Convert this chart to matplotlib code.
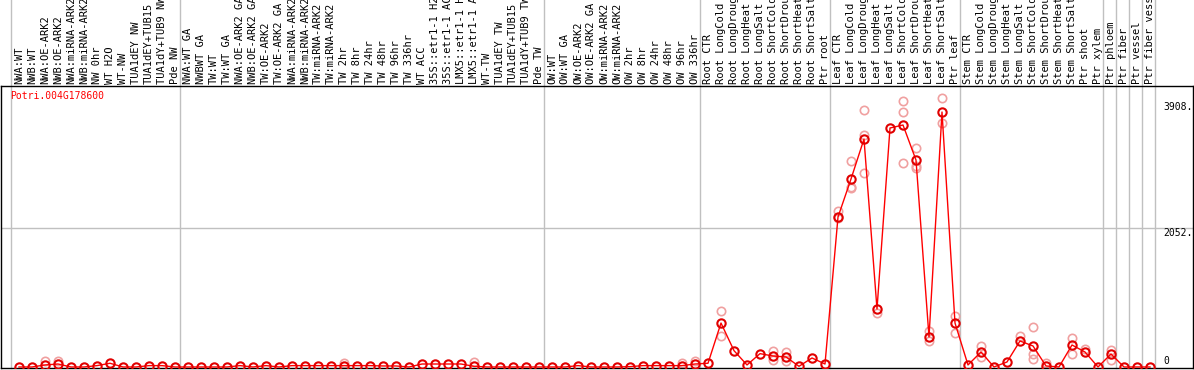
import matplotlib
matplotlib.use("Agg")
import matplotlib.pyplot as plt
import matplotlib.transforms as mtransforms

gene = "Potri.004G178600"

samples = [
    "NWA:WT", "NWB:WT", "NWA:OE-ARK2", "NWB:OE-ARK2", "NWA:miRNA-ARK2",
    "NWB:miRNA-ARK2", "NW 0hr", "WT H2O", "WT-NW", "TUA1dEY NW",
    "TUA1dEY+TUB15", "TUA1dY+TUB9 NW", "Pde NW",
    "NWA:WT GA", "NWBWT GA", "TW:WT", "TW:WT GA", "NWA:OE-ARK2 GA",
    "NWB:OE-ARK2 GA", "TW:OE-ARK2", "TW:OE-ARK2 GA", "NWA:miRNA-ARK2",
    "NWB:miRNA-ARK2", "TW:miRNA-ARK2", "TW:miRNA-ARK2", "TW 2hr", "TW 8hr",
    "TW 24hr", "TW 48hr", "TW 96hr", "TW 336hr", "WT ACC",
    "35S::etr1-1 H2O", "35S::etr1-1 ACC", "LMX5::etr1-1 H2O",
    "LMX5::etr1-1 ACC", "WT-TW", "TUA1dEY TW", "TUA1dEY+TUB15",
    "TUA1dY+TUB9 TW", "Pde TW",
    "OW:WT", "OW:WT GA", "OW:OE-ARK2", "OW:OE-ARK2 GA", "OW:miRNA-ARK2",
    "OW:miRNA-ARK2", "OW 2hr", "OW 8hr", "OW 24hr", "OW 48hr", "OW 96hr",
    "OW 336hr",
    "Root CTR", "Root LongCold", "Root LongDrought", "Root LongHeat",
    "Root LongSalt", "Root ShortCold", "Root ShortDrought", "Root ShortHeat",
    "Root ShortSalt", "Ptr root",
    "Leaf CTR", "Leaf LongCold", "Leaf LongDrought", "Leaf LongHeat",
    "Leaf LongSalt", "Leaf ShortCold", "Leaf ShortDrought", "Leaf ShortHeat",
    "Leaf ShortSalt", "Ptr leaf",
    "Stem CTR", "Stem LongCold", "Stem LongDrought", "Stem LongHeat",
    "Stem LongSalt", "Stem ShortCold", "Stem ShortDrought", "Stem ShortHeat",
    "Stem ShortSalt", "Ptr shoot", "Ptr xylem",
    "Ptr phloem", "Ptr fiber", "Ptr vessel", "Ptr fiber vessel",
]

means = [
    0, 0, 30, 44, 0, 0, 20, 55, 0, 0, 20, 20, 0,
    0, 0, 0, 0, 20, 0, 20, 0, 20, 20, 20, 20, 20, 20, 20, 15, 15, 0, 44,
    44, 44, 44, 10, 0, 0, 0, 0, 0,
    0, 0, 20, 0, 0, 0, 5, 20, 20, 20, 20, 44,
    55, 649, 241, 30, 197, 162, 148, 10, 133, 44,
    2214, 2775, 3365, 856, 3528, 3572, 3055, 443, 3764, 649,
    30, 221, 0, 74, 384, 310, 15, 0, 325, 221, 0,
    192, 0, 0, 0,
]

# replicate points that show apart from the mean
rep_idx = [2, 3, 25, 35, 51, 52, 54, 54, 58, 58, 59, 59,
           63, 63, 64, 64, 64, 65, 65, 65, 66, 68, 68, 68, 69, 69, 69,
           70, 70, 71, 71, 72, 72, 74, 74, 77, 78, 78, 78, 79, 81, 81, 82,
           84, 84]
rep_val = [90, 90, 60, 74, 55, 90, 822, 453, 241, 98, 216, 84,
           2303, 2200, 3040, 2657, 2642, 3793, 3424, 2863, 797, 3926, 3764,
           3011, 3232, 2967, 2937, 531, 384, 3970, 3601, 753, 502, 310, 148,
           458, 590, 192, 118, 59, 428, 192, 266, 251, 103]

group_ends = [-1, 12, 40, 52, 62, 72, 83, 84, 85, 86, 87]
ytick_vals = [0, 2052, 3908]

mono = "DejaVu Sans Mono"
W, H = 1194, 370
fig = plt.figure(figsize=(W / 100, H / 100), dpi=100)
ax_h = 282
ax = fig.add_axes([1 / W, 2 / H, 1192 / W, ax_h / H])

x = list(range(len(samples)))
ax.set_xlim((1 - 19) / 13, (1193 - 19) / 13)
ax.set_ylim(-15, 4148)

ax.axhline(2052, color="#c0c0c0", lw=1, zorder=0)
for g in group_ends:
    ax.axvline(g + 0.38, ymin=0, ymax=(H - 2) / ax_h, color="#c0c0c0",
               lw=1, clip_on=False, zorder=0)

ax.plot(rep_idx, rep_val, ls="none", marker="o", ms=6, mfc="none",
        mec="#f0a0a0", mew=1.2, zorder=2)
ax.plot(x, means, color="#ff0000", lw=1, marker="o", ms=6, mfc="none",
        mec="#e00000", mew=1.5, zorder=3)

trans = mtransforms.blended_transform_factory(ax.transData, ax.transAxes)
for i, s in enumerate(samples):
    ax.text(i, 1 + 2 / ax_h, s, transform=trans, rotation=90, ha="center",
            va="bottom", fontsize=7.5, family=mono, color="black")

ytrans = mtransforms.blended_transform_factory(ax.transAxes, ax.transData)
for v in ytick_vals:
    lbl = "0" if v == 0 else f"{v}."
    ax.text(1162 / 1192, v + (15 if v == 0 else 0), lbl, transform=ytrans,
            ha="left", va="bottom" if v == 0 else "top", fontsize=7,
            family=mono, color="black")

ax.text(9 / 1192, 1 - 5 / ax_h, gene, transform=ax.transAxes, ha="left",
        va="top", fontsize=7, family=mono, color="#ff0000")

ax.set_xticks([])
ax.set_yticks([])
for sp in ax.spines.values():
    sp.set_color("black")
    sp.set_linewidth(1)

fig.savefig("out.png", dpi=100)
